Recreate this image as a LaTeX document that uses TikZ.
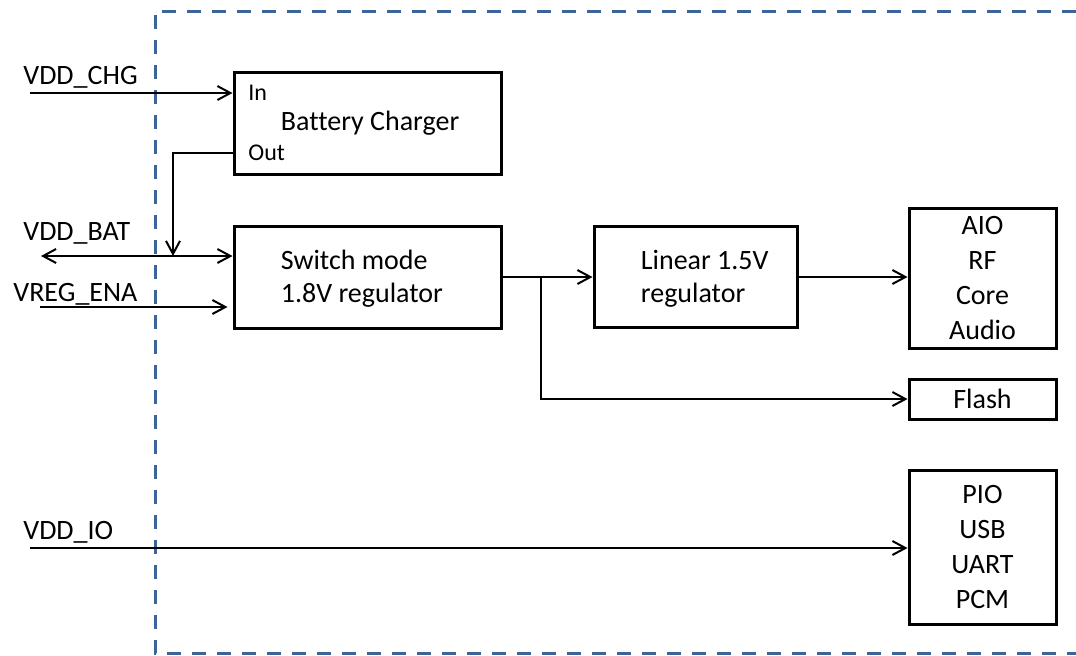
\documentclass[tikz,border=0pt]{standalone}
\usepackage{fontspec}
\setmainfont{Carlito}[Ligatures=NoCommon]
\usepackage{tikz}
\usetikzlibrary{arrows.meta, positioning}
\definecolor{frameblue}{RGB}{60,100,153}
\tikzstyle{block} = [rectangle, draw=black, line width=1.5pt, inner sep=0pt, align=center, font=\fontsize{14}{16.5}\selectfont]
\tikzstyle{unit} = [block, minimum width=73.5pt, font=\fontsize{14}{17.5}\selectfont]
\tikzstyle{boxtext} = [inner sep=0pt, align=left, font=\fontsize{14}{16.5}\selectfont]
\tikzstyle{port} = [inner sep=0pt, anchor=west, font=\fontsize{12}{14}\selectfont]
\tikzstyle{signal} = [inner sep=0pt, anchor=west, font=\fontsize{14}{16}\selectfont]
\tikzstyle{arrow} = [line width=1pt, -{Straight Barb[length=6.5pt, width=7pt]}]
\tikzstyle{biarrow} = [line width=1pt, {Straight Barb[length=6.5pt, width=7pt]}-{Straight Barb[length=6.5pt, width=7pt]}]
\tikzstyle{chipframe} = [draw=frameblue, line width=1.5pt, dash pattern=on 7pt off 5.5pt]

\begin{document}
\begin{tikzpicture}[x=0.5pt, y=-0.5pt]
\useasboundingbox (0,0) rectangle (1076,655);

% chip outline
\draw [chipframe] (1076,11) -- (155,11) -- (155,653) -- (1076,653);

\node (charger) [block, minimum width=133.5pt, minimum height=51pt] at (367.5,123) {};
\node (switch) [block, minimum width=133.5pt, minimum height=51pt, below of=charger, node distance=77pt] {};
\node (linear) [block, minimum width=101.5pt, minimum height=50.5pt, right of=switch, node distance=164pt] {};

\node (chargertxt) [boxtext, right=24pt of charger.west] {Battery Charger};
\node (switchtxt) [boxtext, right=24pt of switch.west, yshift=-1pt] {Switch mode\\1.8V regulator};
\node (lineartxt) [boxtext, right=24pt of linear.west, yshift=-1pt] {Linear 1.5V\\regulator};

\node (aio) [unit, minimum height=70pt, right of=linear, node distance=143.5pt, yshift=-0.5pt] {AIO\\RF\\Core\\Audio};
\node (flash) [unit, minimum height=20pt, below of=aio, node distance=60.5pt] {Flash};
\node (pio) [unit, minimum height=77pt, below of=flash, node distance=74pt] {PIO\\USB\\UART\\PCM};

\node (inlbl) [port] at (248,93) {In};
\node (outlbl) [port] at (248,153) {Out};

\node (vddchg) [signal] at (23,77) {VDD\_CHG};
\node (vddbat) [signal] at (23,233) {VDD\_BAT};
\node (vregena) [signal] at (13,294) {VREG\_ENA};
\node (vddio) [signal] at (23,532) {VDD\_IO};

\coordinate (chgin) at (30,93);
\coordinate (batend) at (41,256);
\coordinate (batjoin) at (173,256);
\coordinate (enain) at (40,307);
\coordinate (split) at (541,277);
\coordinate (ioin) at (30,548);

\draw [arrow] (chgin) -- (chgin -| charger.west);
\draw [arrow] (outlbl.west -| charger.west) -| (batjoin);
\draw [biarrow] (batend) -- (batend -| switch.west);
\draw [arrow, shorten >=2.5pt] (enain) -- (enain -| switch.west);
\draw [arrow] (switch.east) -- (linear.west);
\draw [arrow] (split) |- (flash.west);
\draw [arrow] (linear.east) -- (linear.east -| aio.west);
\draw [arrow] (ioin) -- (ioin -| pio.west);
\end{tikzpicture}
\end{document}
